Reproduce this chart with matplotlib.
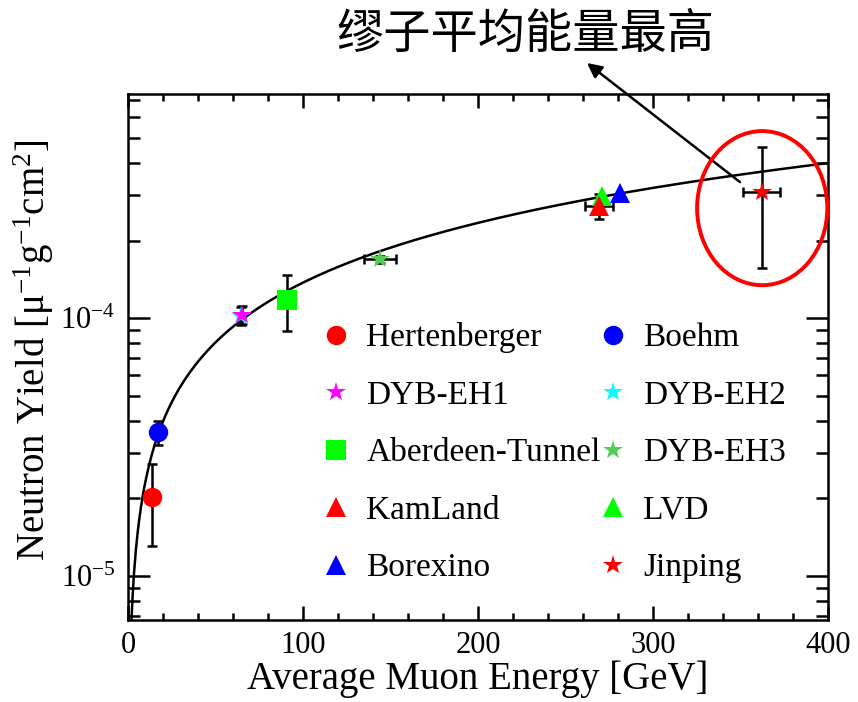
import numpy as np
import matplotlib
matplotlib.use('Agg')
import matplotlib.pyplot as plt
from matplotlib.patches import Ellipse
from matplotlib.lines import Line2D
from matplotlib.ticker import LogLocator, MultipleLocator, NullFormatter

plt.rcParams['font.family'] = ['Liberation Serif', 'DejaVu Serif']
plt.rcParams['mathtext.fontset'] = 'stix'

# ---------------- data ----------------
experiments = ['Hertenberger', 'Boehm', 'DYB-EH1', 'DYB-EH2', 'Aberdeen-Tunnel',
               'DYB-EH3', 'KamLand', 'LVD', 'Borexino', 'Jinping']
energy = [13.7, 17.3, 65.3, 64.5, 90.6, 144.0, 269.0, 271.0, 281.0, 362.0]      # GeV
energy_err = [0.0, 0.0, 0.0, 0.0, 0.0, 9.0, 8.0, 0.0, 0.0, 10.5]
yield_vals = [2.02e-5, 3.61e-5, 1.03e-4, 1.02e-4, 1.18e-4, 1.69e-4, 2.72e-4, 2.97e-4, 3.05e-4, 3.08e-4]
yield_err = [0.71e-5, 0.38e-5, 0.08e-4, 0.08e-4, 0.29e-4, 0.05e-4, 0.30e-4, 0.0, 0.0, 1.52e-4]

# power-law fit  Y = A * E^B
FIT_A = 3.96e-6
FIT_B = 0.77

x_ticks = [0, 100, 200, 300, 400]
annotation_text = '缪子平均能量最高'
x_label = 'Average Muon Energy [GeV]'
y_label = r'Neutron Yield [$\mathregular{\mu^{-1}g^{-1}cm^{2}}$]'

# ---------------- styles ----------------
colors = {'Hertenberger': '#ff0000', 'Boehm': '#0000ff', 'DYB-EH1': '#ff00ff',
          'DYB-EH2': '#00ffff', 'Aberdeen-Tunnel': '#00ff00', 'DYB-EH3': '#55cc55',
          'KamLand': '#ff0000', 'LVD': '#00ff00', 'Borexino': '#0000ff', 'Jinping': '#ff0000'}
markers = {'Hertenberger': 'o', 'Boehm': 'o', 'DYB-EH1': '*', 'DYB-EH2': '*',
           'Aberdeen-Tunnel': 's', 'DYB-EH3': '*', 'KamLand': '^', 'LVD': '^',
           'Borexino': '^', 'Jinping': '*'}
msize = {'o': 14, 's': 14, '^': 14, '*': 15}
draw_order = ['Hertenberger', 'Boehm', 'DYB-EH2', 'DYB-EH1', 'Aberdeen-Tunnel',
              'DYB-EH3', 'LVD', 'KamLand', 'Borexino', 'Jinping']
legend_order = ['Hertenberger', 'DYB-EH1', 'Aberdeen-Tunnel', 'KamLand', 'Borexino',
                'Boehm', 'DYB-EH2', 'DYB-EH3', 'LVD', 'Jinping']

fig = plt.figure(figsize=(8.58, 7.02), dpi=100)
ax = fig.add_axes([128/858, 1 - 620/702, 700/858, 526/702])

# fit curve
E = np.linspace(0.5, 400, 800)
ax.plot(E, FIT_A * E ** FIT_B, color='black', lw=1.8, zorder=2)

idx = {n: i for i, n in enumerate(experiments)}
for n in experiments:
    i = idx[n]
    if energy_err[i] > 0 or yield_err[i] > 0:
        ax.errorbar(energy[i], yield_vals[i],
                    xerr=energy_err[i] if energy_err[i] > 0 else None,
                    yerr=yield_err[i] if yield_err[i] > 0 else None,
                    fmt='none', ecolor='black', elinewidth=1.8, capsize=3.5,
                    capthick=1.8, zorder=3)
for k, n in enumerate(draw_order):
    i = idx[n]
    m = markers[n]
    ax.plot(energy[i], yield_vals[i], linestyle='none', marker=m,
            color=colors[n], markersize=msize[m], markeredgewidth=0, zorder=4 + k * 0.01)

ax.set_yscale('log')
ax.set_xlim(0, 400)
ax.set_ylim(6.75e-6, 7.4e-4)
ax.set_xticks(x_ticks)
ax.xaxis.set_minor_locator(MultipleLocator(20))
ax.yaxis.set_major_locator(LogLocator(base=10, numticks=10))
ax.yaxis.set_minor_locator(LogLocator(base=10, subs=np.arange(2, 10), numticks=20))
ax.yaxis.set_minor_formatter(NullFormatter())
ax.tick_params(axis='both', which='both', direction='in', top=True, right=True,
               labelsize=22, width=1.8)
ax.tick_params(axis='y', which='major', length=16, pad=9)
ax.tick_params(axis='y', which='minor', length=8.5)
ax.tick_params(axis='x', which='major', length=10, pad=8)
ax.tick_params(axis='x', which='minor', length=5)
for s in ax.spines.values():
    s.set_linewidth(1.8)

ax.set_xlabel(x_label, fontsize=28, labelpad=0)
ax.set_ylabel(y_label, fontsize=28)
ax.yaxis.set_label_coords(-0.103, 0.513)

handles = []
for n in legend_order:
    m = markers[n]
    handles.append(Line2D([], [], linestyle='none', marker=m, color=colors[n],
                          markersize=msize[m], markeredgewidth=0, label=n))
ax.legend(handles=handles, ncol=2, loc='upper left', bbox_to_anchor=(0.2736, 0.566),
          frameon=False, fontsize=24, handlelength=1.0, handletextpad=0.4,
          columnspacing=-0.11, labelspacing=0.81, borderpad=0, borderaxespad=0)

# highlight ellipse and annotation
ax.add_patch(Ellipse((0.906, 0.783), 0.186, 0.293, transform=ax.transAxes,
                     fill=False, edgecolor='#ff0000', lw=2.8, clip_on=False, zorder=6))
ax.annotate('', xy=(587/858, 1 - 63/702), xycoords='figure fraction',
            xytext=(349.7, 3.37e-4), textcoords='data',
            arrowprops=dict(arrowstyle='-|>', color='black', lw=1.8, mutation_scale=22,
                            shrinkA=0, shrinkB=0))
fig.text(525/858, 1 - 35/702, annotation_text, ha='center', va='center',
         fontsize=34, family=['Noto Sans CJK SC', 'DejaVu Sans'])

fig.savefig('out.png', dpi=100)
